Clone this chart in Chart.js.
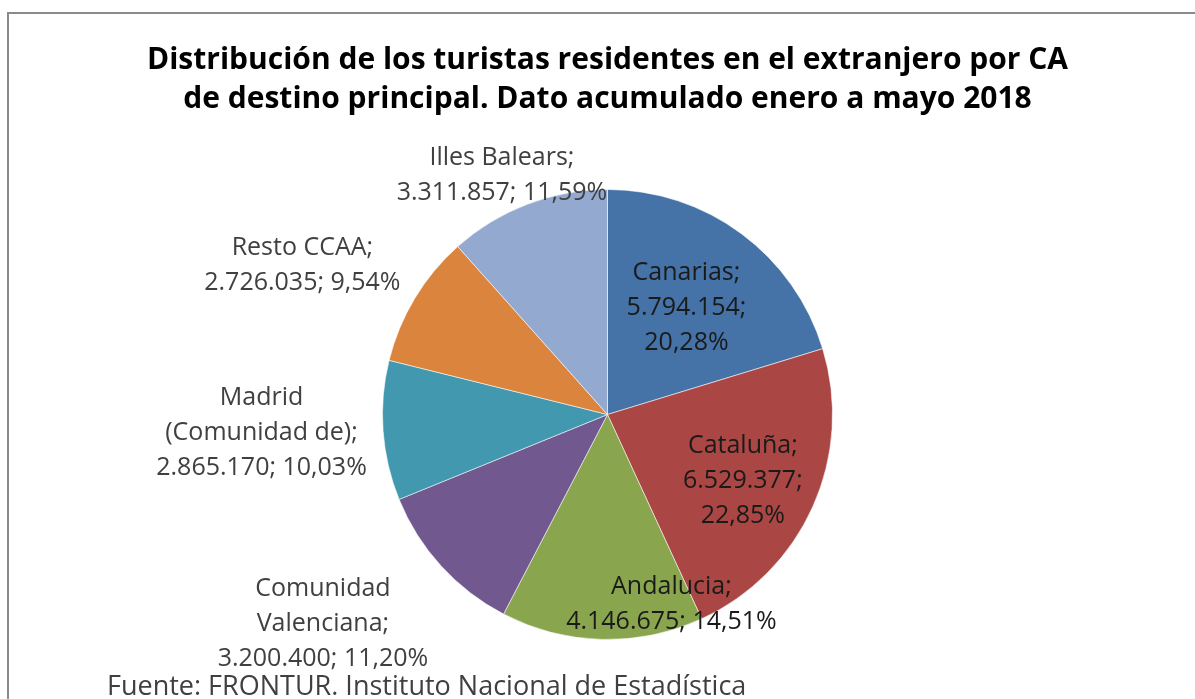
<!DOCTYPE html>
<html>
<head>
<meta charset="utf-8">
<script src="https://cdn.jsdelivr.net/npm/chart.js@4.4.1/dist/chart.umd.min.js"></script>
<style>
    html, body { margin: 0; padding: 0; background: #fff; overflow: hidden; }
    #frame { position: absolute; left: 7px; top: 12px; width: 1210px; height: 720px; border: 2px solid #8a8a8a; }
    #wrap { position: absolute; left: 0; top: 0; width: 1195px; height: 699px; }
</style>
</head>
<body>
<div id="frame"></div>
<div id="wrap"><canvas id="chart" width="1195" height="699"></canvas></div>
<script>
// Data
const categories = ['Canarias', 'Cataluña', 'Andalucia', 'Comunidad\nValenciana', 'Madrid\n(Comunidad de)', 'Resto CCAA', 'Illes Balears'];
const values = [5794154, 6529377, 4146675, 3200400, 2865170, 2726035, 3311857];
const colors = ['#4572A7', '#AA4643', '#89A54E', '#71588F', '#4198AF', '#DB843D', '#93A9CF'];
const titleLines = ['Distribución de los turistas residentes en el extranjero por CA', 'de destino principal. Dato acumulado enero a mayo 2018'];
const footerText = 'Fuente: FRONTUR. Instituto Nacional de Estadística';

const total = values.reduce((a, b) => a + b, 0);
const fmtInt = n => String(n).replace(/\B(?=(\d{3})+(?!\d))/g, '.');
const fmtPct = f => (f * 100).toFixed(2).replace('.', ',') + '%';

// Slice labels (Excel style) + footer
const sliceLabels = {
    id: 'sliceLabels',
    afterDatasetsDraw(chart, args, opts) {
        const ctx = chart.ctx;
        const meta = chart.getDatasetMeta(0);
        ctx.save();
        ctx.font = opts.font;
        ctx.textAlign = 'center';
        ctx.textBaseline = 'middle';
        meta.data.forEach((arc, i) => {
            const p = arc.getProps(['x', 'y', 'startAngle', 'endAngle', 'outerRadius'], true);
            const mid = (p.startAngle + p.endAngle) / 2 + opts.shift[i] * Math.PI / 180;
            const r = p.outerRadius * opts.dist[i];
            const cx = p.x + Math.cos(mid) * r;
            const cy = p.y + Math.sin(mid) * r;
            const lines = categories[i].split('\n');
            lines[lines.length - 1] += ';';
            const v = fmtInt(values[i]) + ';';
            const pc = fmtPct(values[i] / total);
            if (opts.split[i]) lines.push(v, pc);
            else lines.push(v + ' ' + pc);
            ctx.fillStyle = opts.dist[i] < 1 ? opts.insideColor : opts.outsideColor;
            lines.forEach((t, k) => {
                ctx.fillText(t, cx, cy + (k - (lines.length - 1) / 2) * opts.lineHeight);
            });
        });
        ctx.textAlign = 'left';
        ctx.font = opts.footerFont;
        ctx.fillStyle = opts.outsideColor;
        ctx.fillText(footerText, opts.footerX, opts.footerY);
        ctx.restore();
    }
};

new Chart(document.getElementById('chart'), {
    type: 'pie',
    data: {
        labels: categories,
        datasets: [{
            data: values,
            backgroundColor: colors,
            borderColor: 'rgba(255,255,255,0.55)',
            borderWidth: 1,
            hoverOffset: 0,
            radius: 225
        }]
    },
    plugins: [sliceLabels],
    options: {
        responsive: false,
        animation: false,
        layout: { padding: { left: 20, right: 0, top: 0, bottom: 60 } },
        plugins: {
            legend: { display: false },
            tooltip: { enabled: false },
            title: {
                display: true,
                text: titleLines,
                color: '#000',
                font: { family: 'Open Sans', size: 30, weight: 'bold', lineHeight: 1.3 },
                padding: { top: 41, bottom: 71 }
            },
            sliceLabels: {
                font: '25px "Open Sans"',
                footerFont: '27px "Open Sans"',
                lineHeight: 35,
                insideColor: '#1a1a1a',
                outsideColor: '#404040',
                dist: [0.59, 0.67, 0.89, 1.57, 1.54, 1.51, 1.16],
                shift: [0, 2, -20, 6, 1, -5, -3],
                split: [true, true, false, false, false, false, false],
                footerX: 107,
                footerY: 687
            }
        }
    }
});
</script>
</body>
</html>
